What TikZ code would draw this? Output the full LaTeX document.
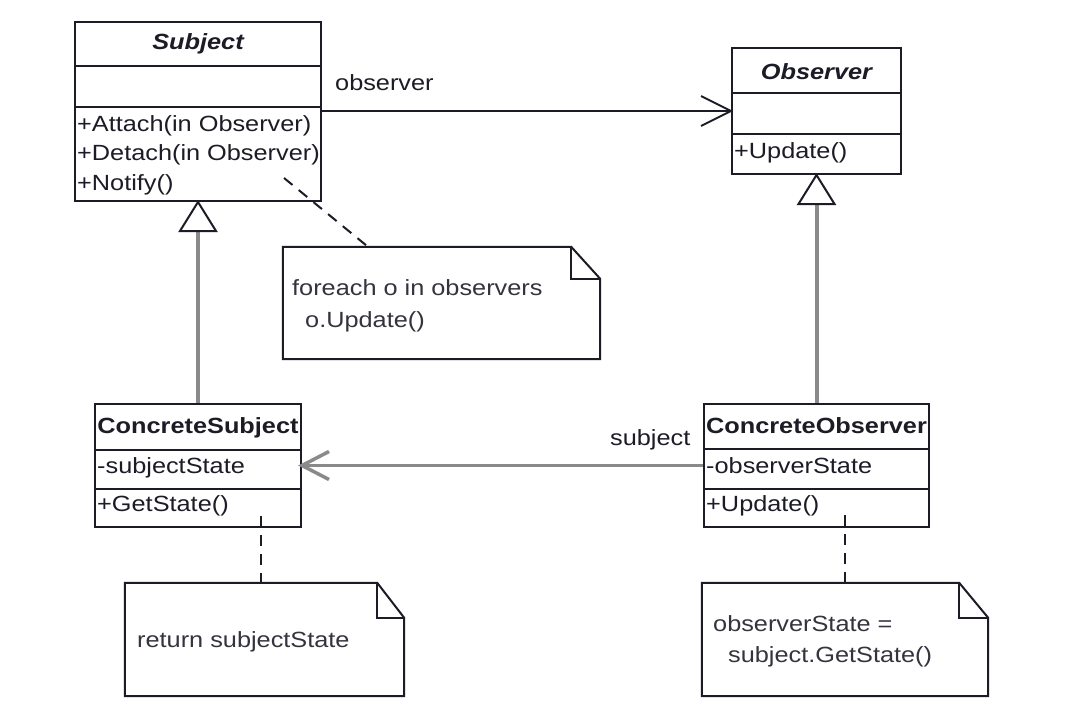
\documentclass[tikz,border=0pt]{standalone}
\usepackage{fontspec}
\setmainfont{Liberation Sans}[FakeStretch=1.15]
\usetikzlibrary{calc}
\definecolor{ink}{HTML}{1C1C26}
\definecolor{notetext}{HTML}{34343E}
\definecolor{linkgray}{HTML}{8A8A8A}
\begin{document}
\begin{tikzpicture}[x=1pt,y=-1pt,
  classbox/.style={draw=ink, line width=2pt, inner sep=0pt},
  rule/.style={draw=ink, line width=2pt},
  txt/.style={inner sep=0pt, anchor=base west, text=ink, font=\fontsize{22}{26}\selectfont},
  title/.style={inner sep=0pt, anchor=base, text=ink, font=\fontsize{22}{26}\selectfont\bfseries},
  notetxt/.style={inner sep=0pt, anchor=base west, text=notetext, font=\fontsize{22}{26}\selectfont},
  noteframe/.style={draw=none, inner sep=0pt},
  noteline/.style={draw=ink, line width=2pt, line join=miter},
  anchorline/.style={draw=ink, line width=2pt, dash pattern=on 11pt off 8pt},
  assocblack/.style={draw=ink, line width=2pt},
  assocgray/.style={draw=linkgray, line width=3.5pt},
  genline/.style={draw=linkgray, line width=4pt},
  gentip/.style={draw=ink, line width=2pt, fill=white, line join=miter},
]
\fill[white] (0,0) rectangle (1079,725);
\useasboundingbox (0,0) rectangle (1079,725);

% ---- class boxes ----
\node[classbox, minimum width=246pt, minimum height=179pt] (subject)  at (198,111.5) {};
\node[classbox, minimum width=169pt, minimum height=126pt] (observer) at (816.5,111) {};
\node[classbox, minimum width=206pt, minimum height=123pt] (csub)     at (198,465.5) {};
\node[classbox, minimum width=225pt, minimum height=123pt] (cobs)     at (816.5,465.5) {};

% compartment separators
\draw[rule] (subject.west |- 0,66)  -- (subject.east |- 0,66);
\draw[rule] (subject.west |- 0,107) -- (subject.east |- 0,107);
\draw[rule] (observer.west |- 0,93)  -- (observer.east |- 0,93);
\draw[rule] (observer.west |- 0,134) -- (observer.east |- 0,134);
\draw[rule] (csub.west |- 0,450) -- (csub.east |- 0,450);
\draw[rule] (csub.west |- 0,489) -- (csub.east |- 0,489);
\draw[rule] (cobs.west |- 0,449) -- (cobs.east |- 0,449);
\draw[rule] (cobs.west |- 0,489) -- (cobs.east |- 0,489);

% class texts
\node[title] (subjectName) at (198,49) {\itshape Subject};
\node[txt] (attach) at (77,131) {+Attach(in Observer)};
\node[txt] (detach) at (77,160) {+Detach(in Observer)};
\node[txt] (notify) at (77,190) {+Notify()};

\node[title] (observerName) at (816.5,79) {\itshape Observer};
\node[txt] (obsUpdate) at (734,158) {+Update()};

\node[title] (csubName) at (198,433) {ConcreteSubject};
\node[txt] (subjState) at (97,473) {-subjectState};
\node[txt] (getState) at (97,511) {+GetState()};

\node[title] (cobsName) at (816.5,433) {ConcreteObserver};
\node[txt] (obsState) at (706,473) {-observerState};
\node[txt] (cobsUpdate) at (706,511) {+Update()};

% ---- notes ----
\node[noteframe, minimum width=317pt, minimum height=112pt] (note1) at (441.5,303) {};
\node[noteframe, minimum width=279pt, minimum height=113pt] (note2) at (264.5,639.5) {};
\node[noteframe, minimum width=286pt, minimum height=113pt] (note3) at (845,639.5) {};
\foreach \n/\fx/\fy in {note1/29/32, note2/27/35, note3/29/35}{
  \draw[noteline] (\n.north west) -- ($(\n.north east)+(-\fx,0)$) -- ($(\n.north east)+(0,\fy)$)
        -- (\n.south east) -- (\n.south west) -- cycle;
  \draw[noteline] ($(\n.north east)+(-\fx,0)$) -- ++(0,\fy) -- ($(\n.north east)+(0,\fy)$);
}
\node[notetxt] (note1a) at (292,295) {foreach o in observers};
\node[notetxt] (note1b) at (305,327) {o.Update()};
\node[notetxt] (note2a) at (137,647) {return subjectState};
\node[notetxt] (note3a) at (713,631) {observerState =};
\node[notetxt] (note3b) at (728,662) {subject.GetState()};

% note anchors
\coordinate (n1from) at (284,178);
\coordinate (n2from) at (261,516);
\coordinate (n3from) at (845,515);
\draw[anchorline] (n1from) -- (note1.north -| 368,0);
\draw[anchorline] (n2from) -- (note2.north -| n2from);
\draw[anchorline] (n3from) -- (note3.north -| n3from);

% ---- associations ----
\draw[assocblack] (subject.east |- observer.west) -- (observer.west);
\draw[assocblack, line join=miter] ($(observer.west)+(-30,-15)$) -- (observer.west) -- ($(observer.west)+(-30,15)$);
\node[txt] (obsRole) at (335,91) {observer};

\draw[assocgray] (cobs.west) -- (csub.east);
\draw[assocgray, line join=miter] ($(csub.east)+(27,-14)$) -- (csub.east) -- ($(csub.east)+(27,14)$);
\node[txt] (subjRole) at (610,445) {subject};

% ---- generalizations ----
\draw[genline] (csub.north) -- ($(subject.south)+(0,29)$);
\draw[gentip] (subject.south) -- ++(-18,29) -- ++(36,0) -- cycle;
\draw[genline] (cobs.north) -- ($(observer.south)+(0,29)$);
\draw[gentip] (observer.south) -- ++(-18,29) -- ++(36,0) -- cycle;
\end{tikzpicture}
\end{document}
